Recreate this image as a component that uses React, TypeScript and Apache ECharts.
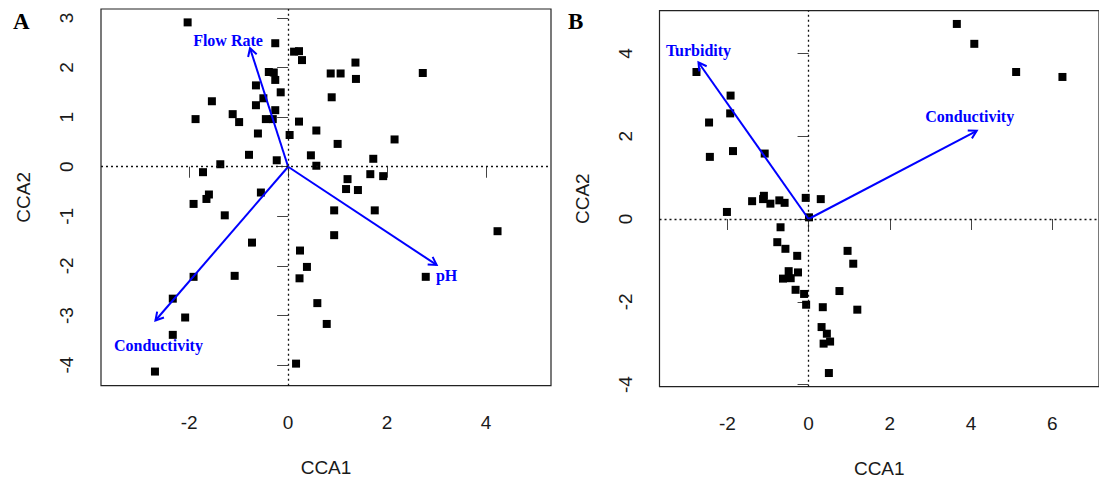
import React, { useEffect, useRef } from "react";
import * as echarts from "echarts";

// Site scores (CCA1, CCA2) — panel A
const sitesA: [number, number][] = [
  [-2.03, 2.91], [-0.26, 2.49], [0.12, 2.32], [0.22, 2.33], [0.28, 2.15],
  [1.36, 2.10], [-0.39, 1.91], [-0.29, 1.90], [0.86, 1.88], [1.06, 1.88],
  [2.72, 1.89], [-0.26, 1.75], [1.37, 1.77], [-0.65, 1.64], [-0.15, 1.50],
  [0.88, 1.40], [-0.50, 1.38], [-1.54, 1.32], [-0.65, 1.24], [-0.26, 1.14],
  [-1.12, 1.06], [-0.99, 0.90], [-1.87, 0.96], [-0.45, 0.96], [-0.31, 0.96],
  [0.22, 0.91], [0.57, 0.73], [-0.61, 0.67], [0.03, 0.64], [2.15, 0.55],
  [1.00, 0.46], [-0.79, 0.24], [0.46, 0.23], [1.72, 0.16], [-0.23, 0.13],
  [-1.37, 0.05], [0.57, 0.02], [-1.72, -0.11], [1.66, -0.15], [1.92, -0.19],
  [1.20, -0.25], [1.17, -0.45], [1.41, -0.47], [-1.60, -0.56], [-1.65, -0.65],
  [-0.55, -0.52], [-1.91, -0.75], [0.93, -0.88], [1.75, -0.88], [-1.28, -0.98],
  [0.93, -1.38], [4.23, -1.30], [-0.73, -1.53], [0.24, -1.69], [0.38, -2.02],
  [0.23, -2.25], [2.78, -2.22], [-1.91, -2.22], [-1.08, -2.20], [-2.33, -2.66],
  [0.59, -2.75], [0.78, -3.17], [-2.08, -3.04], [-2.33, -3.39], [-2.69, -4.13],
  [0.16, -3.97],
];

// Site scores (CCA1, CCA2) — panel B
const sitesB: [number, number][] = [
  [-2.76, 3.55], [-1.92, 2.98], [-1.93, 2.55], [-2.45, 2.33], [-2.43, 1.50],
  [-1.86, 1.64], [-1.08, 1.58], [-1.39, 0.43], [-1.10, 0.56], [-1.12, 0.48],
  [-0.94, 0.37], [-0.72, 0.45], [-0.59, 0.39], [-0.07, 0.51], [0.30, 0.48],
  [-2.01, 0.17], [0.01, 0.04], [-0.69, -0.20], [-0.77, -0.56], [-0.57, -0.72],
  [-0.28, -0.89], [0.96, -0.77], [1.10, -1.08], [-0.49, -1.26], [-0.26, -1.29],
  [-0.63, -1.44], [-0.44, -1.43], [-0.32, -1.71], [-0.11, -1.81], [0.76, -1.74],
  [-0.06, -2.07], [0.35, -2.13], [1.20, -2.19], [0.32, -2.61], [0.45, -2.77],
  [0.37, -3.01], [0.53, -2.96], [0.50, -3.72],
  [3.65, 4.71], [4.08, 4.23], [5.11, 3.55], [6.25, 3.43],
];

// Environmental vectors (biplot scores)
const envNamesA = ["Flow Rate", "pH", "Conductivity"];
const envScoresA: [number, number][] = [[-0.77, 2.39], [3.0, -1.98], [-2.68, -3.1]];
const envNamesB = ["Turbidity", "Conductivity"];
const envScoresB: [number, number][] = [[-2.71, 3.78], [4.14, 2.13]];

// Tick positions
const xTicksA = [-2, 0, 2, 4];
const yTicksA = [-4, -3, -2, -1, 0, 1, 2, 3];
const xTicksB = [-2, 0, 2, 4, 6];
const yTicksB = [-4, -2, 0, 2, 4];

// Axis extents
const xRangeA: [number, number] = [-3.78, 5.31];
const yRangeA: [number, number] = [-4.415, 3.18];
const xRangeB: [number, number] = [-3.67, 7.15];
const yRangeB: [number, number] = [-4.05, 5.03];

// Pixel offsets of the vector labels from their arrow tips
const labelOffsetA: [number, number][] = [[-22, -8], [10, 11], [3, 25]];
const labelOffsetB: [number, number][] = [[0, -12], [-7, -14]];

const BLUE = "#0000ff";
const SANS = '"Liberation Sans", Arial, sans-serif';
const SERIF = '"Liberation Serif", "Times New Roman", serif';

function xAxis(gridIndex: number, range: [number, number], ticks: number[]) {
  return {
    type: "value",
    gridIndex,
    min: range[0],
    max: range[1],
    axisLine: { show: false },
    splitLine: { show: false },
    axisTick: { show: true, length: 11, customValues: ticks, lineStyle: { color: "#444", width: 1 } },
    axisLabel: { customValues: ticks, margin: 27, fontSize: 19, color: "#1a1a1a", fontFamily: SANS },
    name: "CCA1",
    nameLocation: "middle",
    nameGap: 72,
    nameTextStyle: { fontSize: 19, color: "#1a1a1a", fontFamily: SANS },
  };
}

function yAxis(gridIndex: number, range: [number, number], ticks: number[]) {
  return {
    type: "value",
    gridIndex,
    min: range[0],
    max: range[1],
    axisLine: { show: false },
    splitLine: { show: false },
    axisTick: { show: true, length: 11, customValues: ticks, lineStyle: { color: "#444", width: 1 } },
    axisLabel: { customValues: ticks, margin: 25, rotate: 90, fontSize: 19, color: "#1a1a1a", fontFamily: SANS },
    name: "CCA2",
    nameLocation: "middle",
    nameGap: 68,
    nameRotate: 90,
    nameTextStyle: { fontSize: 19, color: "#1a1a1a", fontFamily: SANS },
  };
}

function sitesSeries(index: number, data: [number, number][]) {
  return {
    type: "scatter",
    xAxisIndex: index,
    yAxisIndex: index,
    data,
    symbol: "rect",
    symbolSize: 8,
    itemStyle: { color: "#000", opacity: 1 },
    silent: true,
    z: 3,
    markLine: {
      silent: true,
      symbol: ["none", "none"],
      label: { show: false },
      lineStyle: { color: "#111", width: 1.3, type: [2, 3], opacity: 1 },
      data: [{ xAxis: 0 }, { yAxis: 0 }],
    },
  };
}

function vectorSeries(index: number, scores: [number, number][], names: string[], offsets: [number, number][]) {
  return {
    type: "custom",
    xAxisIndex: index,
    yAxisIndex: index,
    data: scores,
    silent: true,
    z: 4,
    renderItem: (params: any, api: any) => {
      const tip = api.coord([api.value(0), api.value(1)]);
      const o = api.coord([0, 0]);
      const ang = Math.atan2(tip[1] - o[1], tip[0] - o[0]);
      const L = 9;
      const a = Math.PI / 6;
      const h1 = [tip[0] - L * Math.cos(ang - a), tip[1] - L * Math.sin(ang - a)];
      const h2 = [tip[0] - L * Math.cos(ang + a), tip[1] - L * Math.sin(ang + a)];
      const off = offsets[params.dataIndex];
      return {
        type: "group",
        children: [
          {
            type: "line",
            shape: { x1: o[0], y1: o[1], x2: tip[0], y2: tip[1] },
            style: { stroke: BLUE, lineWidth: 2 },
          },
          {
            type: "polyline",
            shape: { points: [h1, tip, h2] },
            style: { stroke: BLUE, lineWidth: 2, fill: null },
          },
          {
            type: "text",
            x: tip[0] + off[0],
            y: tip[1] + off[1],
            style: {
              text: names[params.dataIndex],
              fill: BLUE,
              font: `bold 16px ${SERIF}`,
              align: "center",
              verticalAlign: "middle",
              textAlign: "center",
              textVerticalAlign: "middle",
            },
          },
        ],
      };
    },
  };
}

export default function App() {
  const ref = useRef<HTMLDivElement>(null);

  useEffect(() => {
    if (!ref.current) return;
    const chart = echarts.init(ref.current, undefined, { renderer: "svg" });
    chart.setOption({
      animation: false,
      backgroundColor: "#fff",
      grid: [
        { left: 101, top: 9, width: 450, height: 376.7, show: true, borderColor: "#222", borderWidth: 1.2, backgroundColor: "transparent" },
        { left: 659.5, top: 10.7, width: 448, height: 376, show: true, borderColor: "#222", borderWidth: 1.2, backgroundColor: "transparent" },
      ],
      xAxis: [xAxis(0, xRangeA, xTicksA), xAxis(1, xRangeB, xTicksB)],
      yAxis: [yAxis(0, yRangeA, yTicksA), yAxis(1, yRangeB, yTicksB)],
      graphic: [
        { type: "text", left: 13, top: 10, style: { text: "A", font: `bold 23px ${SERIF}`, fill: "#000" } },
        { type: "text", left: 568, top: 10, style: { text: "B", font: `bold 23px ${SERIF}`, fill: "#000" } },
      ],
      series: [
        sitesSeries(0, sitesA),
        sitesSeries(1, sitesB),
        vectorSeries(0, envScoresA, envNamesA, labelOffsetA),
        vectorSeries(1, envScoresB, envNamesB, labelOffsetB),
      ],
    });
    return () => chart.dispose();
  }, []);

  return (
    <div
      ref={ref}
      style={{ position: "fixed", left: 0, top: 0, width: 1099, height: 483, background: "#fff" }}
    />
  );
}
